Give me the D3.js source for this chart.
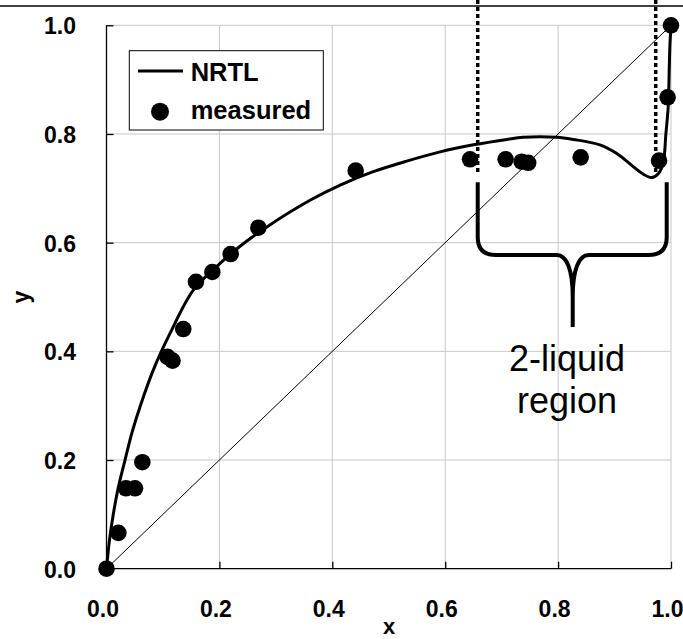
<!DOCTYPE html>
<html>
<head>
<meta charset="utf-8">
<script src="https://cdn.jsdelivr.net/npm/d3@7"></script>
<style>
  html, body { margin: 0; padding: 0; background: #fff; }
  svg { display: block; }
  text { font-family: "Liberation Sans", Arial, sans-serif; }
</style>
</head>
<body>
<div id="chart"></div>
<script>
// ---------- data ----------
const xTicks = [0.0, 0.2, 0.4, 0.6, 0.8, 1.0];
const yTicks = [0.0, 0.2, 0.4, 0.6, 0.8, 1.0];
const xTickLabels = ["0.0", "0.2", "0.4", "0.6", "0.8", "1.0"];
const yTickLabels = ["0.0", "0.2", "0.4", "0.6", "0.8", "1.0"];

// NRTL model curve (x, y)
const nrtlX = [0, 0.005, 0.012, 0.021, 0.0328, 0.045, 0.060, 0.083, 0.1125, 0.154, 0.195, 0.236, 0.284, 0.3605, 0.414, 0.4726, 0.532, 0.591, 0.650, 0.709, 0.738, 0.7975, 0.827, 0.874, 0.904, 0.933, 0.951, 0.966, 0.9775, 0.986, 0.991, 0.995, 0.997, 0.998, 1.0];
const nrtlY = [0, 0.050, 0.100, 0.150, 0.200, 0.250, 0.300, 0.366, 0.433, 0.513, 0.556, 0.593, 0.629, 0.678, 0.706, 0.7306, 0.750, 0.767, 0.780, 0.790, 0.794, 0.794, 0.790, 0.780, 0.764, 0.740, 0.726, 0.720, 0.727, 0.746, 0.801, 0.850, 0.924, 0.961, 1.0];

// measured points
const measX = [0, 0.021, 0.0345, 0.0505, 0.0635, 0.108, 0.117, 0.136, 0.1585, 0.1875, 0.22, 0.269, 0.4414, 0.644, 0.707, 0.7355, 0.747, 0.840, 0.9788, 0.994, 1.0];
const measY = [0, 0.066, 0.148, 0.148, 0.196, 0.390, 0.383, 0.441, 0.528, 0.546, 0.579, 0.6275, 0.7325, 0.7534, 0.7534, 0.749, 0.747, 0.757, 0.751, 0.8675, 1.0];

// 2-liquid region boundaries (x) and brace geometry (data units)
const regionLines = [0.6576, 0.9729];
const braceX = [0.6576, 0.8259, 0.9924]; // left arm, center, right arm
const braceY = [0.7114, 0.5773, 0.4448]; // top, horizontal bar, stem bottom
const annotation = ["2-liquid", "region"];

// ---------- chart ----------
const W = 683, H = 639;
const svg = d3.select("#chart").append("svg").attr("width", W).attr("height", H);

const x = d3.scaleLinear().domain([0, 1]).range([106.5, 671]);
const y = d3.scaleLinear().domain([0, 1]).range([568.7, 25.3]);

// top rule
svg.append("line").attr("x1", 0).attr("x2", W).attr("y1", 6).attr("y2", 6)
  .attr("stroke", "#000").attr("stroke-width", 1.3);

// gridlines
const grid = svg.append("g");
grid.selectAll(".gx").data(xTicks.slice(1)).enter().append("line")
  .attr("x1", d => x(d)).attr("x2", d => x(d)).attr("y1", y(0)).attr("y2", y(1))
  .attr("stroke", "#c8c8c8").attr("stroke-width", 1);
grid.selectAll(".gy").data(yTicks.slice(1)).enter().append("line")
  .attr("x1", x(0)).attr("x2", x(1)).attr("y1", d => y(d)).attr("y2", d => y(d))
  .attr("stroke", "#c8c8c8").attr("stroke-width", 1);

// axes (inward ticks)
const xAxis = d3.axisBottom(x).tickValues(xTicks).tickSize(-7).tickFormat("");
const yAxis = d3.axisLeft(y).tickValues(yTicks).tickSize(-7).tickFormat("");
const gx = svg.append("g").attr("transform", `translate(0,${y(0)})`).call(xAxis);
const gy = svg.append("g").attr("transform", `translate(${x(0)},0)`).call(yAxis);
[gx, gy].forEach(g => {
  g.select(".domain").attr("stroke", "#000").attr("stroke-width", 1.3);
  g.selectAll(".tick line").attr("stroke", "#000").attr("stroke-width", 1.3);
});
gx.select(".domain").attr("d", `M${x(0)},0H${x(1)}`);
gy.select(".domain").attr("d", `M0,${y(0)}V${y(1)}`);

// tick labels
svg.append("g").selectAll("text").data(xTicks).enter().append("text")
  .attr("x", d => x(d) - 3.5).attr("y", 616.5)
  .attr("text-anchor", "middle").attr("font-size", 23).attr("font-weight", "bold")
  .text((d, i) => xTickLabels[i]);
svg.append("g").selectAll("text").data(yTicks).enter().append("text")
  .attr("x", 76).attr("y", d => y(d) + 1)
  .attr("text-anchor", "end").attr("dominant-baseline", "central")
  .attr("font-size", 23).attr("font-weight", "bold")
  .text((d, i) => yTickLabels[i]);

// axis titles
svg.append("text").attr("x", 389).attr("y", 634).attr("text-anchor", "middle")
  .attr("font-size", 22).attr("font-weight", "bold").text("x");
svg.append("text").attr("transform", `translate(28.5,297) rotate(-90)`)
  .attr("text-anchor", "middle").attr("font-size", 23).attr("font-weight", "bold").text("y");

// diagonal y = x
svg.append("line").attr("x1", x(0)).attr("y1", y(0)).attr("x2", x(1)).attr("y2", y(1))
  .attr("stroke", "#000").attr("stroke-width", 1);

// dotted region boundaries
svg.append("g").selectAll("line").data(regionLines).enter().append("line")
  .attr("x1", d => x(d)).attr("x2", d => x(d)).attr("y1", 0).attr("y2", y(0.73))
  .attr("stroke", "#000").attr("stroke-width", 3.5).attr("stroke-dasharray", "4,3");

// brace
{
  const X1 = x(braceX[0]), Xc = x(braceX[1]), X2 = x(braceX[2]);
  const Yt = y(braceY[0]), Yh = y(braceY[1]), Yb = y(braceY[2]);
  const r = 18;
  const p = d3.path();
  p.moveTo(X1, Yt); p.lineTo(X1, Yh - r); p.quadraticCurveTo(X1, Yh, X1 + r, Yh);
  p.lineTo(Xc - 16, Yh); p.bezierCurveTo(Xc - 6, Yh, Xc, Yh + 15, Xc, Yh + 42); p.lineTo(Xc, Yb);
  p.moveTo(X2, Yt); p.lineTo(X2, Yh - r); p.quadraticCurveTo(X2, Yh, X2 - r, Yh);
  p.lineTo(Xc + 16, Yh); p.bezierCurveTo(Xc + 6, Yh, Xc, Yh + 15, Xc, Yh + 42);
  svg.append("path").attr("d", p.toString()).attr("fill", "none")
    .attr("stroke", "#000").attr("stroke-width", 4);
}

// annotation text
svg.append("g").selectAll("text").data(annotation).enter().append("text")
  .attr("x", 567).attr("y", (d, i) => 370.7 + i * 42.5)
  .attr("text-anchor", "middle").attr("font-size", 36).text(d => d);

// NRTL curve
const curveData = nrtlX.map((v, i) => [v, nrtlY[i]]);
const line = d3.line().x(d => x(d[0])).y(d => y(d[1])).curve(d3.curveCatmullRom.alpha(0.5));
svg.append("path").datum(curveData).attr("d", line).attr("fill", "none")
  .attr("stroke", "#000").attr("stroke-width", 3).attr("stroke-linejoin", "round");

// measured points
svg.append("g").selectAll("circle").data(measX.map((v, i) => [v, measY[i]])).enter()
  .append("circle").attr("cx", d => x(d[0])).attr("cy", d => y(d[1])).attr("r", 8.3)
  .attr("fill", "#000");

// legend
const lg = svg.append("g");
lg.append("rect").attr("x", 129.3).attr("y", 50.7).attr("width", 194).attr("height", 79.3)
  .attr("fill", "#fff").attr("stroke", "#000").attr("stroke-width", 1);
lg.append("line").attr("x1", 138).attr("x2", 183).attr("y1", 71).attr("y2", 71)
  .attr("stroke", "#000").attr("stroke-width", 3);
lg.append("text").attr("x", 190.7).attr("y", 80.5).attr("font-size", 25.5).attr("font-weight", "bold").text("NRTL");
lg.append("circle").attr("cx", 160).attr("cy", 111.7).attr("r", 9).attr("fill", "#000");
lg.append("text").attr("x", 190.7).attr("y", 119.3).attr("font-size", 25.5).attr("font-weight", "bold").text("measured");
</script>
</body>
</html>
